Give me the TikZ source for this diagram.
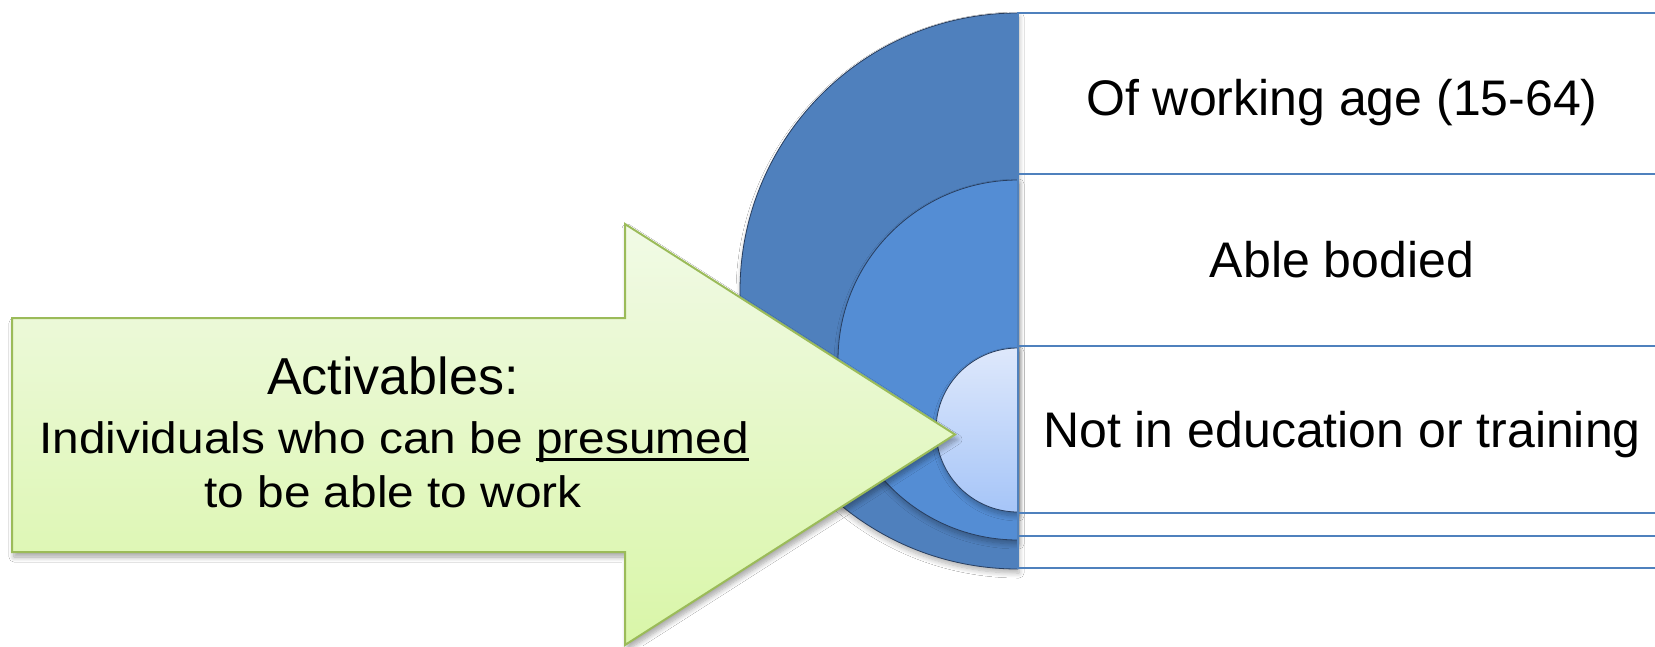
\documentclass[tikz,border=0pt]{standalone}
\usepackage{fontspec}
\setmainfont{Liberation Sans}
\newfontfamily\arrowfont[FakeStretch=1.086]{Liberation Sans}
\usetikzlibrary{shadows.blur}
\definecolor{outerblue}{RGB}{79,128,189}
\definecolor{midblue}{RGB}{84,141,212}
\definecolor{innertop}{RGB}{222,232,251}
\definecolor{innerbot}{RGB}{166,197,248}
\definecolor{rowline}{RGB}{79,129,189}
\definecolor{arcedge}{RGB}{40,62,95}
\definecolor{arrowtop}{RGB}{241,250,230}
\definecolor{arrowbot}{RGB}{217,246,168}
\definecolor{arrowedge}{RGB}{155,187,89}
\newcommand\presul[1]{\setbox0\hbox{#1}\rlap{\rule[-8pt]{\wd0}{3pt}}\box0}
\tikzset{
  halfdisk/.style={draw=arcedge, line width=0.8pt,
    blur shadow={shadow xshift=1pt, shadow yshift=-4pt, shadow blur radius=5pt, shadow blur steps=8, shadow opacity=30}},
  rowbox/.style={draw=rowline, line width=1.5pt},
  rowtext/.style={font=\fontsize{50}{60}\selectfont, anchor=base, inner sep=0pt},
  bigarrow/.style={draw=arrowedge, line width=2pt, line join=miter, top color=arrowtop, bottom color=arrowbot,
    blur shadow={shadow xshift=2pt, shadow yshift=-5pt, shadow blur radius=5pt, shadow blur steps=8, shadow opacity=35}},
  arrowtext/.style={anchor=base, inner sep=0pt}
}
\begin{document}
\begin{tikzpicture}[x=1pt,y=-1pt]
\useasboundingbox[fill=white] (0,0) rectangle (1655,646);
\begin{scope}
\clip (0,0) rectangle (1655,646);
% nested half disks
\path[halfdisk, fill=outerblue] (1018,13) arc[start angle=270, end angle=90, radius=278] -- cycle;
\path[halfdisk, fill=midblue] (1018,180) arc[start angle=270, end angle=90, radius=180] -- cycle;
\path[halfdisk, top color=innertop, bottom color=innerbot] (1018,348) arc[start angle=270, end angle=90, radius=82] -- cycle;
% nested rectangles
\draw[rowbox] (1018,13) rectangle (1680,568);
\draw[rowbox] (1018,174) rectangle (1680,536);
\draw[rowbox] (1018,346) rectangle (1680,513);
\node[rowtext] (r1) at (1342,115) {Of working age (15-64)};
\node[rowtext] (r2) at (1342,277) {Able bodied};
\node[rowtext] (r3) at (1342,447) {Not in education or training};
% arrow
\path[bigarrow] (12,318) -- (625,318) -- (625,224) -- (955,434.5) -- (625,645) -- (625,552) -- (12,552) -- cycle;
\node[arrowtext, font=\fontsize{52}{60}\selectfont] (act) at (393,394) {Activables:};
\node[arrowtext, font=\arrowfont\fontsize{44}{54}\selectfont] (ind) at (394,453) {Individuals who can be \presul{presumed}};
\node[arrowtext, font=\arrowfont\fontsize{44}{54}\selectfont] (work) at (393,507) {to be able to work};
\end{scope}
\end{tikzpicture}
\end{document}
